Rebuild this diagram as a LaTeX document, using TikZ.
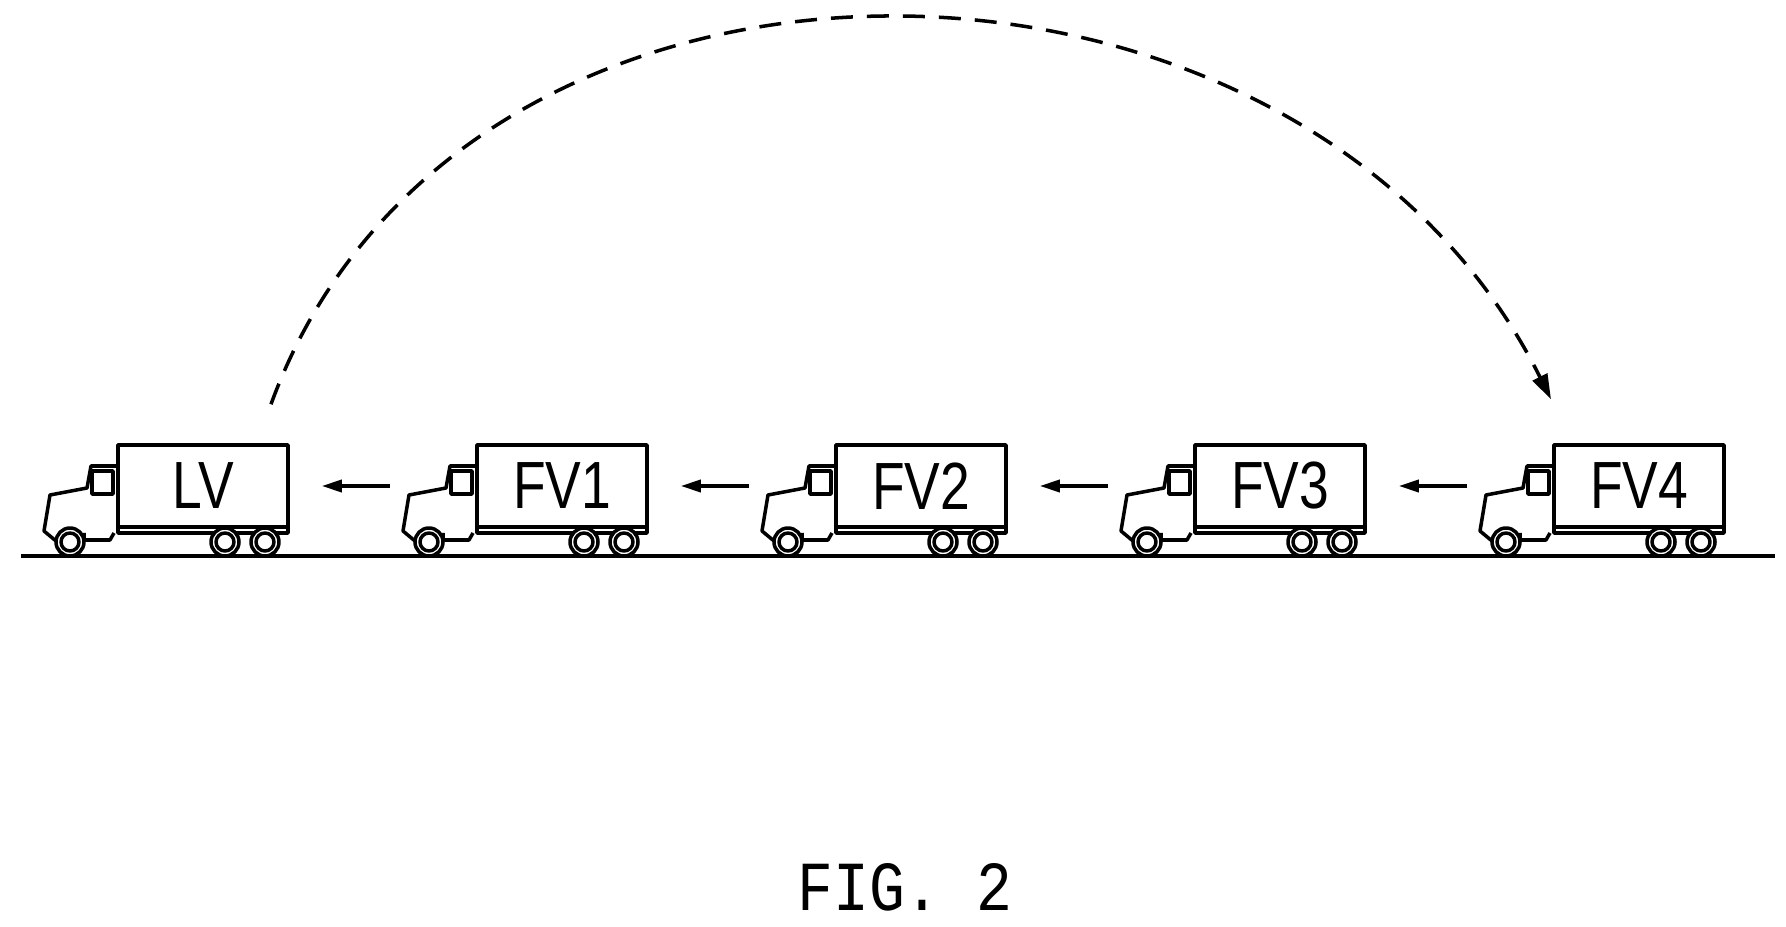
\documentclass[tikz,border=0pt]{standalone}
\usepackage{fontspec}
\setmainfont{Liberation Sans}
\newfontfamily\figfont{Liberation Mono}
\usetikzlibrary{arrows.meta}
\tikzset{
  lorry/.style={draw, minimum width=1.7cm, minimum height=0.82cm, inner sep=0pt},
  plate/.style={font=\fontsize{19}{19}\selectfont, xscale=0.8},
  follow/.style={-{Triangle[length=0.2cm,width=0.12cm]}},
  truck/.pic={
    \draw (-0.85,-0.41) rectangle (0.85,-0.47);
    \draw (-0.85,0.20) -- (-1.12,0.20) -- (-1.16,-0.02) -- (-1.53,-0.09) -- (-1.59,-0.45) -- (-1.47,-0.55);
    \draw (-1.19,-0.47) -- (-1.19,-0.54) -- (-0.93,-0.54) -- (-0.89,-0.47);
    \draw (-1.11,0.15) rectangle (-0.90,-0.08);
    \foreach \x in {-1.33,0.22,0.62} {
      \draw[fill=white] (\x,-0.56) circle [radius=0.14];
      \draw (\x,-0.56) circle [radius=0.09];
    }
  }
}
\begin{document}
\begin{tikzpicture}[line width=1pt, line join=round]
  \useasboundingbox (0,0) rectangle (17.86,9.26);
  % vehicles
  \foreach \n [count=\i from 0] in {LV,FV1,FV2,FV3,FV4} {
    \pic at (2.03+3.59*\i,4.40) {truck};
    \node[lorry] (\n) at (2.03+3.59*\i,4.40) {};
    \node[plate] at (\n) {\n};
  }
  \coordinate (groundL) at (0.21,3.70);
  \coordinate (groundR) at (17.75,3.70);
  \draw (groundL) -- (groundR);
  % following arrows
  \foreach \a/\b in {FV1/LV,FV2/FV1,FV3/FV2,FV4/FV3}
    \draw[follow] ([xshift=-0.85cm]\a.west) -- ([xshift=0.32cm]\b.east);
  % return link
  \draw[dashed, dash pattern=on 0.22cm off 0.14cm, -{Triangle[length=0.25cm,width=0.16cm]}]
    ([xshift=0.68cm,yshift=0.39cm]LV.north) .. controls (4.6,10.4) and (13.0,10.3) .. ([xshift=-0.88cm,yshift=0.44cm]FV4.north);
  \node[font=\figfont\fontsize{20}{20}\selectfont, xscale=0.85] (fig) at (9.05,0.39) {FIG. 2};
\end{tikzpicture}
\end{document}
